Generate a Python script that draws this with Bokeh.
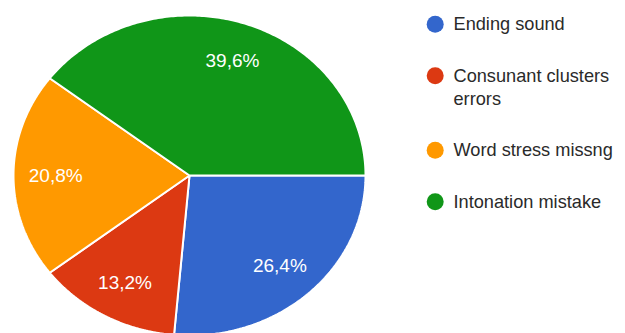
import numpy as np
from bokeh.plotting import figure
from bokeh.models import Range1d
from bokeh.embed import file_html
from bokeh.resources import INLINE
from bokeh.core.properties import value

# ---- data ----
categories = ["Ending sound", "Consunant clusters\nerrors", "Word stress missng", "Intonation mistake"]
percentages = [26.4, 13.2, 20.8, 39.6]
slice_labels = ["26,4%", "13,2%", "20,8%", "39,6%"]
colors = ["#3366cc", "#dc3912", "#ff9900", "#109618"]

# ---- layout constants ----
W, H = 625, 333
CX, CY = 189, H - 175      # pie centre (data units = px)
RX, RY = 176, 160          # ellipse radii
LABEL_FRAC = 0.76
FONT = value("Liberation Sans")

p = figure(width=W, height=H, output_backend="svg", toolbar_location=None,
           x_range=Range1d(0, W), y_range=Range1d(0, H),
           x_axis_type=None, y_axis_type=None,
           min_border=0, min_border_left=0, min_border_right=0,
           min_border_top=0, min_border_bottom=0)
p.grid.visible = False
p.outline_line_color = None
p.background_fill_color = "white"
p.border_fill_color = "white"

# pie slices (clockwise from 3 o'clock)
total = float(sum(percentages))
cum = np.concatenate([[0.0], np.cumsum(percentages)]) / total
xs, ys, lx, ly = [], [], [], []
for i in range(len(percentages)):
    a0 = -cum[i] * 2 * np.pi
    a1 = -cum[i + 1] * 2 * np.pi
    t = np.linspace(a0, a1, 200)
    xs.append(list(np.concatenate([[CX], CX + RX * np.cos(t)])))
    ys.append(list(np.concatenate([[CY], CY + RY * np.sin(t)])))
    am = (a0 + a1) / 2
    lx.append(CX + LABEL_FRAC * RX * np.cos(am))
    ly.append(CY + LABEL_FRAC * RY * np.sin(am))

p.patches(xs=xs, ys=ys, fill_color=colors, line_color="white", line_width=2)
p.text(x=lx, y=ly, text=slice_labels, text_color="white", text_font=FONT,
       text_font_size="19px", text_align="center", text_baseline="middle")

# legend
LEG_X, LEG_Y0, STEP, LINE = 434.7, H - 23.7, 51.5, 23
tx, ty, tt, cx_, cy_, cc = [], [], [], [], [], []
extra = 0
for i, (cat, col) in enumerate(zip(categories, colors)):
    y = LEG_Y0 - i * STEP - extra * LINE
    cx_.append(LEG_X); cy_.append(y); cc.append(col)
    for j, line in enumerate(cat.split("\n")):
        tx.append(LEG_X + 18.3); ty.append(y - j * LINE); tt.append(line)
    extra += len(cat.split("\n")) - 1

p.scatter(x=cx_, y=cy_, size=17, fill_color=cc, line_color=None)
p.text(x=tx, y=ty, text=tt, text_color="#2a2a2a", text_font=FONT,
       text_font_size="18.2px", text_align="left", text_baseline="middle")

open("out.html", "w").write(file_html(p, INLINE))
